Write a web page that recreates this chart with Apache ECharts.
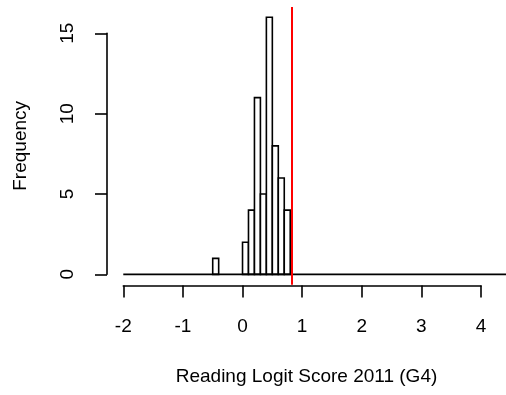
<!DOCTYPE html>
<html>
<head>
<meta charset="utf-8">
<script src="https://cdn.jsdelivr.net/npm/echarts@6/dist/echarts.min.js"></script>
<style>
  html, body { margin: 0; padding: 0; background: #fff; }
  #container { width: 506px; height: 395px; }
</style>
</head>
<body>
<div id="container"></div>
<script>
// histogram data (bin width 0.1)
var binLefts = [-0.5, 0.0, 0.1, 0.2, 0.3, 0.4, 0.5, 0.6, 0.7];
var counts = [1, 2, 4, 11, 5, 16, 8, 6, 4];
var binWidth = 0.1;
// empty bins run across the whole break range
var breakRange = [-2, 4.5];
var cutLine = 0.835;

var xTicks = [-2, -1, 0, 1, 2, 3, 4];
var yTicks = [0, 5, 10, 15];

var FONT = '"Liberation Sans", Arial, sans-serif';

function histData() {
    var _d = [];
    binLefts.forEach((b, i) => {
        _d.push([b, +(b + binWidth).toFixed(2), counts[i]]);
    });
    return _d;
}

var dom = document.getElementById('container');
var myChart = echarts.init(dom, null, { renderer: 'canvas' });

var option = {
    animation: false,
    grid: [
        // plot region
        { left: 107, right: 0, top: 7, height: 277.7 },
        // x axis drawn only from -2 to 4
        { left: 123.3, right: 25, top: 284.5, height: 1 },
        // y axis drawn only from 0 to 15
        { left: 107, width: 10, top: 33.3, height: 241 }
    ],
    xAxis: [
        {
            gridIndex: 0, type: 'value', min: -2.273, max: 4.419,
            axisLine: { show: false }, axisTick: { show: false },
            axisLabel: { show: false }, splitLine: { show: false },
            name: 'Reading Logit Score 2011 (G4)',
            nameLocation: 'middle', nameGap: 83,
            nameTextStyle: { fontFamily: FONT, fontSize: 19, color: '#000' }
        },
        {
            gridIndex: 1, type: 'value', min: xTicks[0], max: xTicks[xTicks.length - 1], interval: 1,
            position: 'bottom',
            axisLine: { lineStyle: { color: '#000', width: 1.6 } },
            axisTick: { length: 12, lineStyle: { color: '#000', width: 1.6 } },
            axisLabel: { margin: 32, fontFamily: FONT, fontSize: 19, color: '#000' },
            splitLine: { show: false }
        },
        {
            gridIndex: 2, type: 'value', show: false
        }
    ],
    yAxis: [
        {
            gridIndex: 0, type: 'value', min: -0.64, max: 16.64,
            axisLine: { show: false }, axisTick: { show: false },
            axisLabel: { show: false }, splitLine: { show: false },
            name: 'Frequency', nameLocation: 'middle', nameGap: 77, nameRotate: 90,
            nameTextStyle: { fontFamily: FONT, fontSize: 19, color: '#000' }
        },
        {
            gridIndex: 1, type: 'value', show: false
        },
        {
            gridIndex: 2, type: 'value', min: yTicks[0], max: yTicks[yTicks.length - 1], interval: 5,
            position: 'left',
            axisLine: { show: true, lineStyle: { color: '#000', width: 1.6 } },
            axisTick: { show: true, length: 12, lineStyle: { color: '#000', width: 1.6 } },
            axisLabel: { margin: 30, rotate: 90, fontFamily: FONT, fontSize: 19, color: '#000' },
            splitLine: { show: false }
        }
    ],
    series: [
        {
            // zero-count bins
            type: 'line',
            xAxisIndex: 0, yAxisIndex: 0,
            data: [[breakRange[0], 0], [breakRange[1], 0]],
            symbol: 'none',
            lineStyle: { color: '#000', width: 1.6 },
            silent: true
        },
        {
            type: 'custom',
            xAxisIndex: 0, yAxisIndex: 0,
            data: histData(),
            encode: { x: [0, 1], y: 2 },
            renderItem: function (params, api) {
                var p0 = api.coord([api.value(0), api.value(2)]);
                var p1 = api.coord([api.value(1), 0]);
                return {
                    type: 'rect',
                    shape: { x: p0[0], y: p0[1], width: p1[0] - p0[0], height: p1[1] - p0[1] },
                    style: { fill: '#fff', stroke: '#000', lineWidth: 1.6 }
                };
            },
            markLine: {
                silent: true,
                symbol: ['none', 'none'],
                label: { show: false },
                lineStyle: { color: '#ff0000', width: 2, type: 'solid' },
                data: [{ xAxis: cutLine }]
            }
        }
    ]
};

myChart.setOption(option);
window.addEventListener('resize', myChart.resize);
</script>
</body>
</html>
